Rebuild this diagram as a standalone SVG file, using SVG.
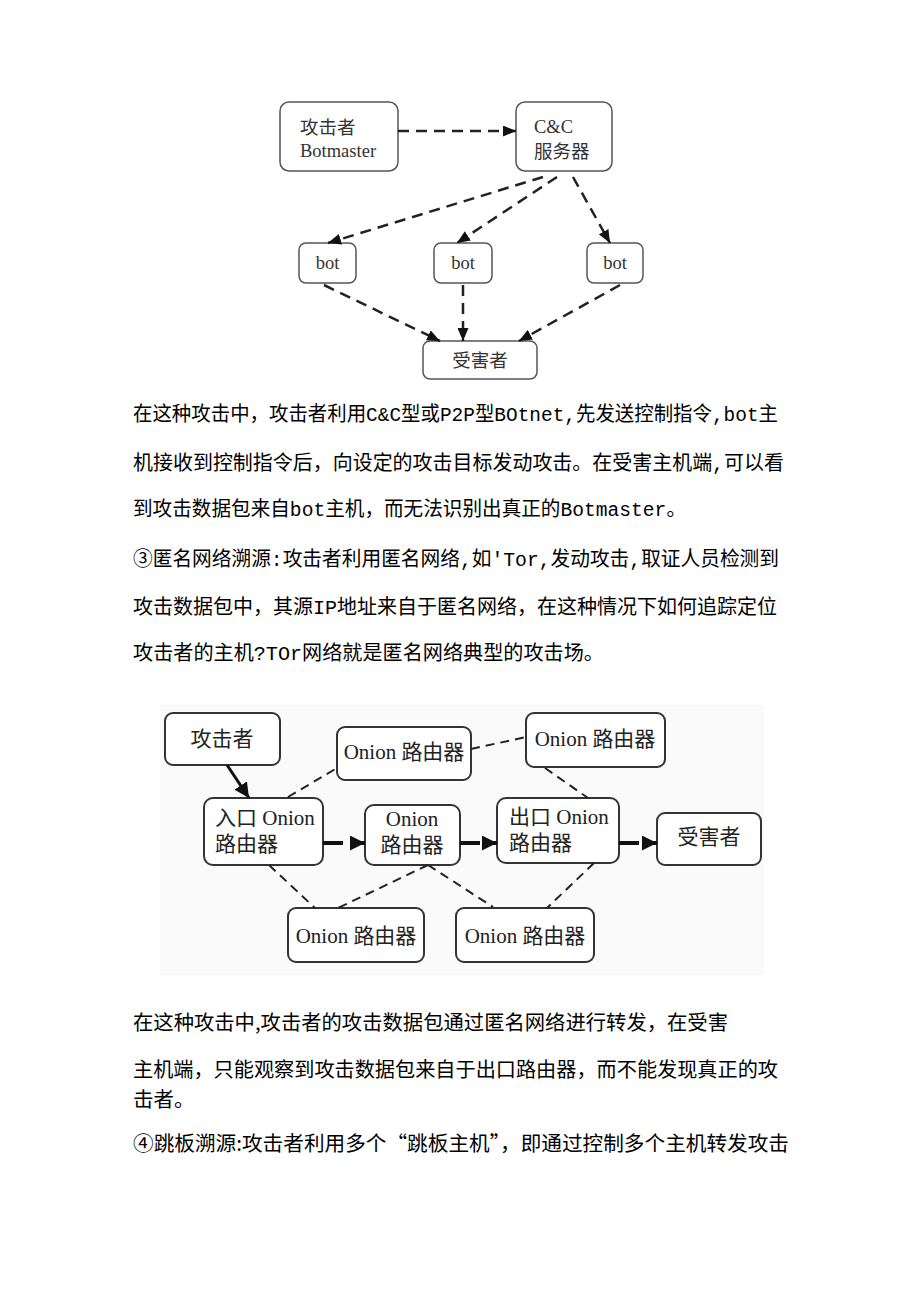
<svg xmlns="http://www.w3.org/2000/svg" width="920" height="1301" viewBox="0 0 920 1301">
<style>
.n1 rect{fill:#fff;stroke:#555;stroke-width:1.5}
.t1{font-family:"Liberation Serif","Noto Sans CJK SC",serif;font-size:18.5px;fill:#333}
.n2 rect{fill:#fff;stroke:#333;stroke-width:2}
.t2{font-family:"Liberation Serif","Noto Sans CJK SC",serif;font-size:21px;fill:#222}
.d1{fill:none;stroke:#222;stroke-width:2.5;stroke-dasharray:11 7}
.d2{fill:none;stroke:#222;stroke-width:2;stroke-dasharray:9 6}
.s2{fill:none;stroke:#111;stroke-width:3}
.f2{fill:none;stroke:#111;stroke-width:4;stroke-dasharray:20 8}
.body{font-family:"Liberation Mono","Noto Sans CJK SC",monospace;font-size:20.5px;fill:#000}
.body2{font-family:"Noto Sans CJK SC","Liberation Mono",sans-serif;font-size:20.5px;fill:#000}
</style>
<defs>
<marker id="a1" markerUnits="userSpaceOnUse" markerWidth="13" markerHeight="11" refX="13" refY="5.5" orient="auto"><path d="M0,0 L13,5.5 L0,11 z" fill="#111"/></marker>
<marker id="a2" markerUnits="userSpaceOnUse" markerWidth="15" markerHeight="15" refX="15" refY="7.5" orient="auto"><path d="M0,0 L15,7.5 L0,15 z" fill="#111"/></marker>
</defs>
<rect width="920" height="1301" fill="#fff"/>

<!-- Diagram 1: botnet -->
<g id="d1-attacker" class="n1"><rect x="280" y="102" width="118" height="69" rx="9"/><text class="t1" x="300" y="134">攻击者</text><text class="t1" x="300" y="157">Botmaster</text></g>
<g id="d1-cc" class="n1"><rect x="516" y="102" width="96" height="69" rx="9"/><text class="t1" x="534" y="133">C&amp;C</text><text class="t1" x="534" y="158">服务器</text></g>
<g id="d1-bot1" class="n1"><rect x="299" y="243" width="57" height="40" rx="7"/><text class="t1" x="327.5" y="269" text-anchor="middle">bot</text></g>
<g id="d1-bot2" class="n1"><rect x="434" y="243" width="58" height="40" rx="7"/><text class="t1" x="463" y="269" text-anchor="middle">bot</text></g>
<g id="d1-bot3" class="n1"><rect x="587" y="243" width="56" height="40" rx="7"/><text class="t1" x="615" y="269" text-anchor="middle">bot</text></g>
<g id="d1-victim" class="n1"><rect x="423" y="341" width="114" height="38" rx="7"/><text class="t1" x="480" y="367" text-anchor="middle">受害者</text></g>
<g id="d1-connectors">
<path class="d1" d="M398,131 L516,131" marker-end="url(#a1)"/>
<path class="d1" d="M543,177 L328,243" marker-end="url(#a1)"/>
<path class="d1" d="M557,177 L457,243" marker-end="url(#a1)"/>
<path class="d1" d="M573,177 L610,243" marker-end="url(#a1)"/>
<path class="d1" d="M324,285 L440,341" marker-end="url(#a1)"/>
<path class="d1" d="M463,285 L463,341" marker-end="url(#a1)"/>
<path class="d1" d="M620,285 L519,341" marker-end="url(#a1)"/>
</g>

<!-- Body text 1 -->
<g id="text1">
<text class="body" x="133" y="421" textLength="645" lengthAdjust="spacingAndGlyphs">在这种攻击中，攻击者利用C&amp;C型或P2P型BOtnet,先发送控制指令,bot主</text>
<text class="body" x="133" y="470" textLength="651" lengthAdjust="spacingAndGlyphs">机接收到控制指令后，向设定的攻击目标发动攻击。在受害主机端,可以看</text>
<text class="body" x="133" y="516" textLength="553" lengthAdjust="spacingAndGlyphs">到攻击数据包来自bot主机，而无法识别出真正的Botmaster。</text>
<text class="body" x="133" y="566" textLength="646" lengthAdjust="spacingAndGlyphs">③匿名网络溯源:攻击者利用匿名网络,如'Tor,发动攻击,取证人员检测到</text>
<text class="body" x="133" y="614" textLength="644" lengthAdjust="spacingAndGlyphs">攻击数据包中，其源IP地址来自于匿名网络，在这种情况下如何追踪定位</text>
<text class="body" x="133" y="660" textLength="471" lengthAdjust="spacingAndGlyphs">攻击者的主机?TOr网络就是匿名网络典型的攻击场。</text>
</g>

<!-- Diagram 2: Tor -->
<rect x="160" y="705" width="604" height="270" fill="#fafafa"/>
<g id="d2-attacker" class="n2"><rect x="165" y="713" width="115" height="52" rx="8"/><text class="t2" x="222" y="746" text-anchor="middle">攻击者</text></g>
<g id="d2-onion-top1" class="n2"><rect x="337" y="727" width="134" height="53" rx="8"/><text class="t2" x="404" y="759" text-anchor="middle">Onion 路由器</text></g>
<g id="d2-onion-top2" class="n2"><rect x="526" y="713" width="139" height="54" rx="8"/><text class="t2" x="595" y="746" text-anchor="middle">Onion 路由器</text></g>
<g id="d2-entry" class="n2"><rect x="204" y="798" width="119" height="67" rx="9"/><text class="t2" x="215" y="825">入口 Onion</text><text class="t2" x="215" y="851">路由器</text></g>
<g id="d2-mid" class="n2"><rect x="365" y="805" width="95" height="60" rx="9"/><text class="t2" x="412" y="826" text-anchor="middle">Onion</text><text class="t2" x="412" y="852" text-anchor="middle">路由器</text></g>
<g id="d2-exit" class="n2"><rect x="497" y="798" width="122" height="65" rx="9"/><text class="t2" x="509" y="824">出口 Onion</text><text class="t2" x="509" y="850">路由器</text></g>
<g id="d2-victim" class="n2"><rect x="657" y="813" width="104" height="52" rx="8"/><text class="t2" x="709" y="844" text-anchor="middle">受害者</text></g>
<g id="d2-onion-bot1" class="n2"><rect x="288" y="908" width="136" height="54" rx="8"/><text class="t2" x="356" y="943" text-anchor="middle">Onion 路由器</text></g>
<g id="d2-onion-bot2" class="n2"><rect x="456" y="908" width="138" height="54" rx="8"/><text class="t2" x="525" y="943" text-anchor="middle">Onion 路由器</text></g>
<g id="d2-connectors">
<path class="s2" d="M227,765 L249,798" marker-end="url(#a2)"/>
<path class="f2" d="M323,843 L365,843" marker-end="url(#a2)"/>
<path class="f2" d="M460,843 L497,843" marker-end="url(#a2)"/>
<path class="f2" d="M619,843 L657,843" marker-end="url(#a2)"/>
<path class="d2" d="M288,797 L337,768"/>
<path class="d2" d="M471,749 L526,737"/>
<path class="d2" d="M545,768 L588,798"/>
<path class="d2" d="M269,865 L315,908"/>
<path class="d2" d="M428,865 L338,908"/>
<path class="d2" d="M428,865 L493,907"/>
<path class="d2" d="M594,863 L547,908"/>
</g>

<!-- Body text 2 -->
<g id="text2">
<text class="body2" x="133" y="1030" textLength="595" lengthAdjust="spacingAndGlyphs">在这种攻击中,攻击者的攻击数据包通过匿名网络进行转发，在受害</text>
<text class="body2" x="133" y="1077" textLength="645" lengthAdjust="spacingAndGlyphs">主机端，只能观察到攻击数据包来自于出口路由器，而不能发现真正的攻</text>
<text class="body2" x="133" y="1107">击者。</text>
<text class="body2" x="133" y="1151" textLength="656" lengthAdjust="spacingAndGlyphs">④跳板溯源:攻击者利用多个“跳板主机”，即通过控制多个主机转发攻击</text>
</g>
</svg>
